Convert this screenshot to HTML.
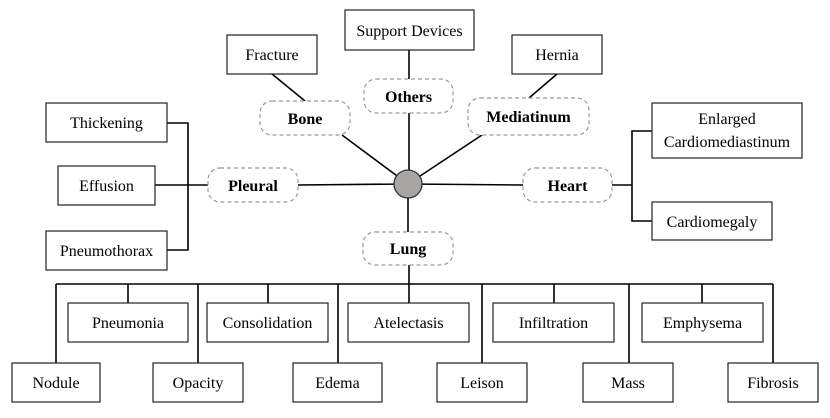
<!DOCTYPE html>
<html><head><style>body{margin:0;background:#fff}svg{display:block}svg text{font-family:"Liberation Serif","Tinos","Times New Roman","Nimbus Roman","DejaVu Serif",serif}</style></head><body>
<svg width="830" height="418" viewBox="0 0 830 418" xmlns="http://www.w3.org/2000/svg">
<g stroke="#000" stroke-width="1.6" fill="none">
<line x1="408" y1="184" x2="298" y2="185"/><line x1="408" y1="184" x2="523" y2="185"/>
<line x1="409" y1="50" x2="409" y2="79"/><line x1="409" y1="113" x2="409" y2="184"/>
<line x1="408" y1="184" x2="408" y2="232"/><line x1="409" y1="265" x2="409" y2="284"/>
<line x1="272" y1="74" x2="305" y2="101"/><line x1="342" y1="135" x2="408" y2="184"/>
<line x1="557" y1="74" x2="529" y2="98"/><line x1="482" y1="135" x2="408" y2="184"/>
<polyline points="167,123 188,123 188,250 167,250"/><line x1="155" y1="185" x2="208" y2="185"/>
<polyline points="652,131 632,131 632,221 652,221"/><line x1="612" y1="185" x2="632" y2="185"/>
<line x1="56" y1="284" x2="773" y2="284"/>
<line x1="56" y1="284" x2="56" y2="363"/><line x1="128" y1="284" x2="128" y2="303"/>
<line x1="198" y1="284" x2="198" y2="363"/><line x1="268" y1="284" x2="268" y2="303"/>
<line x1="338" y1="284" x2="338" y2="363"/><line x1="409" y1="284" x2="409" y2="303"/>
<line x1="482" y1="284" x2="482" y2="363"/><line x1="554" y1="284" x2="554" y2="303"/>
<line x1="629" y1="284" x2="629" y2="363"/><line x1="702" y1="284" x2="702" y2="303"/>
<line x1="773" y1="284" x2="773" y2="363"/>
</g>
<circle cx="408" cy="184" r="14" fill="#a9a5a5" stroke="#333" stroke-width="1.3"/>
<g fill="#fff" stroke="#999" stroke-width="1.2" stroke-dasharray="4,3">
<rect x="364" y="79" width="89" height="34" rx="12"/><rect x="260" y="101" width="90" height="34" rx="12"/>
<rect x="468" y="98" width="121" height="37" rx="12"/><rect x="208" y="168" width="90" height="34" rx="12"/>
<rect x="523" y="168" width="89" height="34" rx="12"/><rect x="363" y="232" width="90" height="33" rx="12"/>
</g>
<g fill="#fff" stroke="#222" stroke-width="1.2">
<rect x="345" y="10" width="129" height="40"/><rect x="227" y="35" width="90" height="39"/>
<rect x="512" y="35" width="90" height="39"/><rect x="46" y="103" width="121" height="39"/>
<rect x="58" y="166" width="97" height="39"/><rect x="46" y="231" width="121" height="39"/>
<rect x="652" y="103" width="150" height="55"/><rect x="652" y="202" width="120" height="38"/>
<rect x="68" y="303" width="120" height="39"/><rect x="207" y="303" width="121" height="39"/>
<rect x="348" y="303" width="121" height="39"/><rect x="493" y="303" width="121" height="39"/>
<rect x="642" y="303" width="121" height="39"/>
<rect x="12" y="363" width="88" height="39"/><rect x="153" y="363" width="90" height="39"/>
<rect x="293" y="363" width="89" height="39"/><rect x="437" y="363" width="90" height="39"/>
<rect x="583" y="363" width="90" height="39"/><rect x="728" y="363" width="90" height="39"/>
</g>
<g font-size="16" text-anchor="middle" fill="#000">
<text x="409.5" y="36">Support Devices</text><text x="272" y="60">Fracture</text><text x="557" y="60">Hernia</text>
<text x="106.5" y="128">Thickening</text><text x="106.5" y="191">Effusion</text><text x="106.5" y="256">Pneumothorax</text>
<text x="727" y="124">Enlarged</text><text x="727" y="147">Cardiomediastinum</text><text x="712" y="227">Cardiomegaly</text>
<text x="128" y="328">Pneumonia</text><text x="267.5" y="328">Consolidation</text><text x="408.5" y="328">Atelectasis</text>
<text x="553.5" y="328">Infiltration</text><text x="702.5" y="328">Emphysema</text>
<text x="56" y="388">Nodule</text><text x="198" y="388">Opacity</text><text x="337.5" y="388">Edema</text>
<text x="482" y="388">Leison</text><text x="628" y="388">Mass</text><text x="773" y="388">Fibrosis</text>
</g>
<g font-size="16" font-weight="bold" text-anchor="middle" fill="#000">
<text x="408.5" y="102">Others</text><text x="305" y="124">Bone</text><text x="528.5" y="122">Mediatinum</text>
<text x="253" y="191">Pleural</text><text x="567.5" y="191">Heart</text><text x="408" y="254">Lung</text>
</g>
</svg>
</body></html>
